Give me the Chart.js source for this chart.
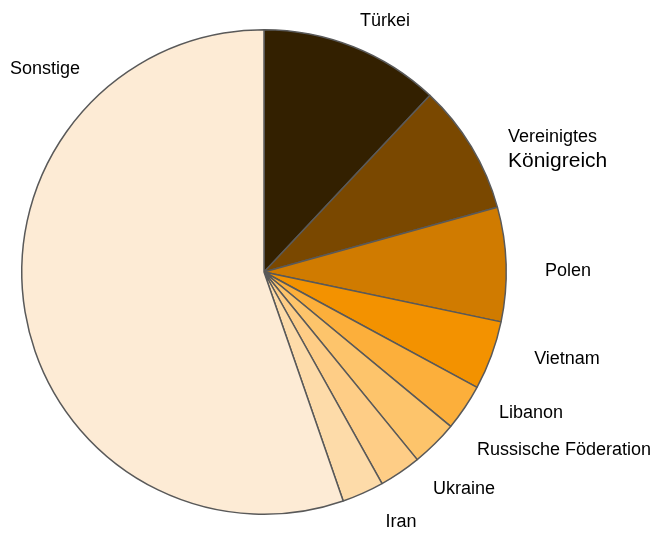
<!DOCTYPE html>
<html>
<head>
<meta charset="utf-8">
<script src="https://cdn.jsdelivr.net/npm/chart.js@4/dist/chart.umd.min.js"></script>
<style>
  html, body { margin: 0; padding: 0; background: #fff; }
  #wrap { width: 658px; height: 533px; }
</style>
</head>
<body>
<div id="wrap"><canvas id="pieChart" width="658" height="533"></canvas></div>
<script>
// Anteile in Prozent, im Uhrzeigersinn ab 12 Uhr
const countries = ["Türkei", "Vereinigtes Königreich", "Polen", "Vietnam", "Libanon",
    "Russische Föderation", "Ukraine", "Iran", "Sonstige"];
const shares = [12.0, 8.7, 7.6, 4.6, 3.1, 3.1, 2.8, 2.8, 55.3];
const sliceColors = ["#332000", "#7a4800", "#d07b00", "#f39200", "#fcaf3b",
    "#fdc46b", "#fecd86", "#fddba9", "#fdebd5"];

// Beschriftung: Versatz zur Kreismitte (Text, keine Datenpunkte)
const labelOffsets = [
    [121, -251], [244, -123], [304, -1], [303, 87], [267, 141],
    [300, 178], [200, 217], [137, 250], [-219, -203]
];

const outsideLabels = {
    id: "outsideLabels",
    afterDraw(chart) {
        const ctx = chart.ctx;
        const arcs = chart.getDatasetMeta(0).data;
        ctx.save();
        ctx.fillStyle = "#000";
        ctx.textBaseline = "middle";
        arcs.forEach((arc, i) => {
            const x = arc.x + labelOffsets[i][0];
            const y = arc.y + labelOffsets[i][1];
            const name = chart.data.labels[i];
            if (name === "Vereinigtes Königreich") {
                ctx.textAlign = "left";
                ctx.font = "18px 'Liberation Sans', Arial, sans-serif";
                ctx.fillText("Vereinigtes", x, y - 12);
                ctx.font = "21px 'Liberation Sans', Arial, sans-serif";
                ctx.fillText("Königreich", x, y + 12);
            } else {
                ctx.textAlign = "center";
                ctx.font = "18px 'Liberation Sans', Arial, sans-serif";
                ctx.fillText(name, x, y);
            }
        });
        ctx.restore();
    }
};

new Chart(document.getElementById("pieChart"), {
    type: "pie",
    data: {
        labels: countries,
        datasets: [{
            data: shares,
            backgroundColor: sliceColors,
            borderColor: "#595959",
            borderWidth: 1.5
        }]
    },
    options: {
        responsive: false,
        animation: false,
        layout: { padding: { left: 21, right: 151, top: 29, bottom: 18 } },
        plugins: {
            legend: { display: false },
            tooltip: { enabled: false }
        }
    },
    plugins: [outsideLabels]
});
</script>
</body>
</html>
